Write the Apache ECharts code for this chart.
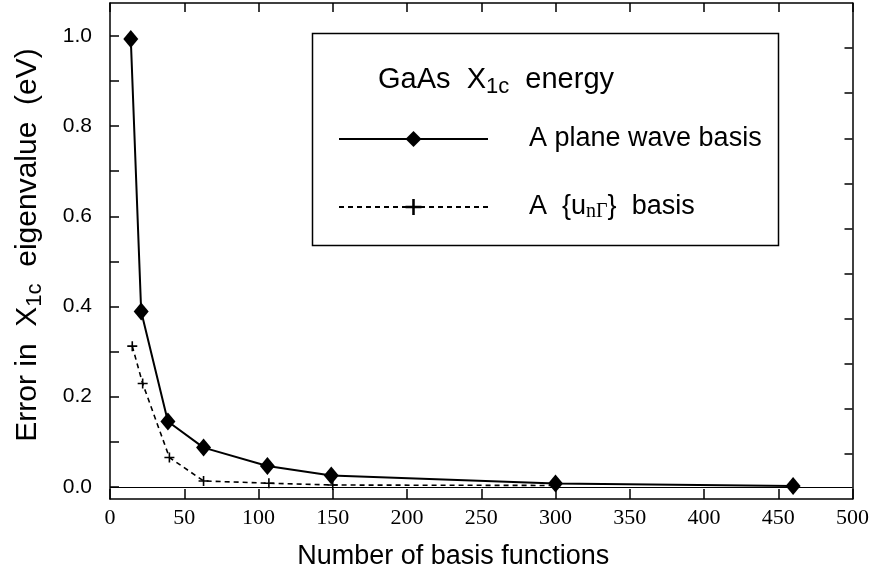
<!DOCTYPE html>
<html>
<head>
<meta charset="utf-8">
<script src="https://cdn.jsdelivr.net/npm/echarts@6/dist/echarts.min.js"></script>
<style>html,body{margin:0;padding:0;background:#fff}#c{width:872px;height:576px}</style>
</head>
<body>
<div id="c"></div>
<script>
// Data
const nPW = [14, 21, 39, 63, 106, 149, 300, 460];
const ePW = [0.993, 0.389, 0.145, 0.087, 0.046, 0.025, 0.0075, 0.002];
const nU = [15, 22, 40, 63, 107, 150, 300];
const eU = [0.312, 0.229, 0.065, 0.013, 0.008, 0.004, 0.003];
const yLabelValues = [0, 0.2, 0.4, 0.6, 0.8, 1.0];
const yTickValues = [0, 0.1, 0.2, 0.3, 0.4, 0.5, 0.6, 0.7, 0.8, 0.9, 1.0];
const yRightTicks = [0.073, 0.173, 0.273, 0.373, 0.473, 0.573, 0.673, 0.773, 0.873, 0.973];

const SANS = '"Liberation Sans", Arial, Helvetica, sans-serif';
const SERIF = '"Liberation Serif", "Times New Roman", serif';

const subStyle = {fontSize: 22, fontFamily: SANS, color: '#000', verticalAlign: 'bottom', lineHeight: 22};

const chart = echarts.init(document.getElementById('c'), null, {renderer: 'canvas'});
const plusPath = 'path://M4.2,0H5.8V4.2H10V5.8H5.8V10H4.2V5.8H0V4.2H4.2Z';

const option = {
  backgroundColor: '#fff',
  animation: false,
  grid: {left: 110, right: 16, top: 3, bottom: 77},
  title: {
    text: 'GaAs  X{sub|1c}  energy',
    left: 378, top: 62,
    padding: 0,
    textStyle: {fontSize: 29, fontWeight: 'normal', fontFamily: SANS, color: '#000', lineHeight: 36,
      rich: {sub: subStyle}}
  },
  legend: {
    orient: 'vertical',
    left: 338, top: 124,
    padding: 0,
    itemWidth: 149, itemHeight: 20,
    itemGap: 38,
    data: ['pw', 'un'],
    formatter: function (name) {
      return name === 'pw' ? 'A plane wave basis' : 'A  {u{sub|nΓ}}  basis';
    },
    textStyle: {fontSize: 27, fontFamily: SANS, color: '#000', lineHeight: 30, padding: [0, 0, 0, 36],
      rich: {sub: {fontSize: 20, fontFamily: SERIF, color: '#000', verticalAlign: 'bottom', lineHeight: 19}}}
  },
  graphic: [{
    type: 'rect', left: 310, top: 31, z: 10,
    shape: {width: 466, height: 212},
    style: {fill: 'none', stroke: '#000', lineWidth: 1.5}
  }],
  xAxis: [{
    type: 'value', min: 0, max: 500, interval: 50, position: 'bottom',
    name: 'Number of basis functions', nameLocation: 'middle', nameGap: 44,
    nameTextStyle: {fontSize: 27, fontFamily: SANS, color: '#000', padding: [0, 56, 0, 0]},
    axisLine: {show: true, onZero: false, lineStyle: {color: '#000', width: 1.5}},
    axisTick: {show: true, inside: true, length: 10, lineStyle: {color: '#000', width: 1.5}},
    axisLabel: {fontSize: 22, fontFamily: SERIF, color: '#000', margin: 8},
    splitLine: {show: false}
  }, {
    type: 'value', min: 0, max: 500, interval: 50, position: 'top',
    axisLine: {show: true, onZero: false, lineStyle: {color: '#000', width: 1.5}},
    axisTick: {show: true, inside: true, length: 9, lineStyle: {color: '#000', width: 1.5}},
    axisLabel: {show: false}, splitLine: {show: false}
  }],
  yAxis: [{
    type: 'value', min: -0.027, max: 1.073, position: 'left',
    name: 'Error in  X{sub|1c}  eigenvalue  (eV)', nameLocation: 'middle', nameGap: 64,
    nameTextStyle: {fontSize: 30, fontFamily: SANS, color: '#000', lineHeight: 36, padding: [0, 0, 0, 12],
      rich: {sub: subStyle}},
    axisLine: {show: true, onZero: false, lineStyle: {color: '#000', width: 1.5}},
    axisTick: {show: true, inside: true, length: 9, customValues: yTickValues, lineStyle: {color: '#000', width: 1.5}},
    axisLabel: {fontSize: 21, fontFamily: SANS, color: '#000', margin: 18, customValues: yLabelValues,
      formatter: v => v.toFixed(1)},
    splitLine: {show: false}
  }, {
    type: 'value', min: -0.027, max: 1.073, position: 'right',
    axisLine: {show: true, onZero: false, lineStyle: {color: '#000', width: 1.5}},
    axisTick: {show: true, inside: true, length: 8, customValues: yRightTicks, lineStyle: {color: '#000', width: 1.5}},
    axisLabel: {show: false}, splitLine: {show: false}
  }],
  series: [{
    name: 'pw', type: 'line', xAxisIndex: 0, yAxisIndex: 0,
    data: nPW.map((x, i) => [x, ePW[i]]),
    symbol: 'diamond', symbolSize: [15, 18],
    itemStyle: {color: '#000'},
    lineStyle: {color: '#000', width: 2, type: 'solid'},
    markLine: {
      silent: true, symbol: 'none', label: {show: false},
      lineStyle: {color: '#000', width: 1, type: 'solid'},
      data: [{yAxis: 0}]
    },
    z: 3
  }, {
    name: 'un', type: 'line', xAxisIndex: 0, yAxisIndex: 0,
    data: nU.map((x, i) => [x, eU[i]]),
    symbol: plusPath, symbolSize: 10,
    itemStyle: {color: '#000'},
    lineStyle: {color: '#000', width: 1.6, type: [5, 4]},
    z: 2
  }]
};
chart.setOption(option);
</script>
</body>
</html>
